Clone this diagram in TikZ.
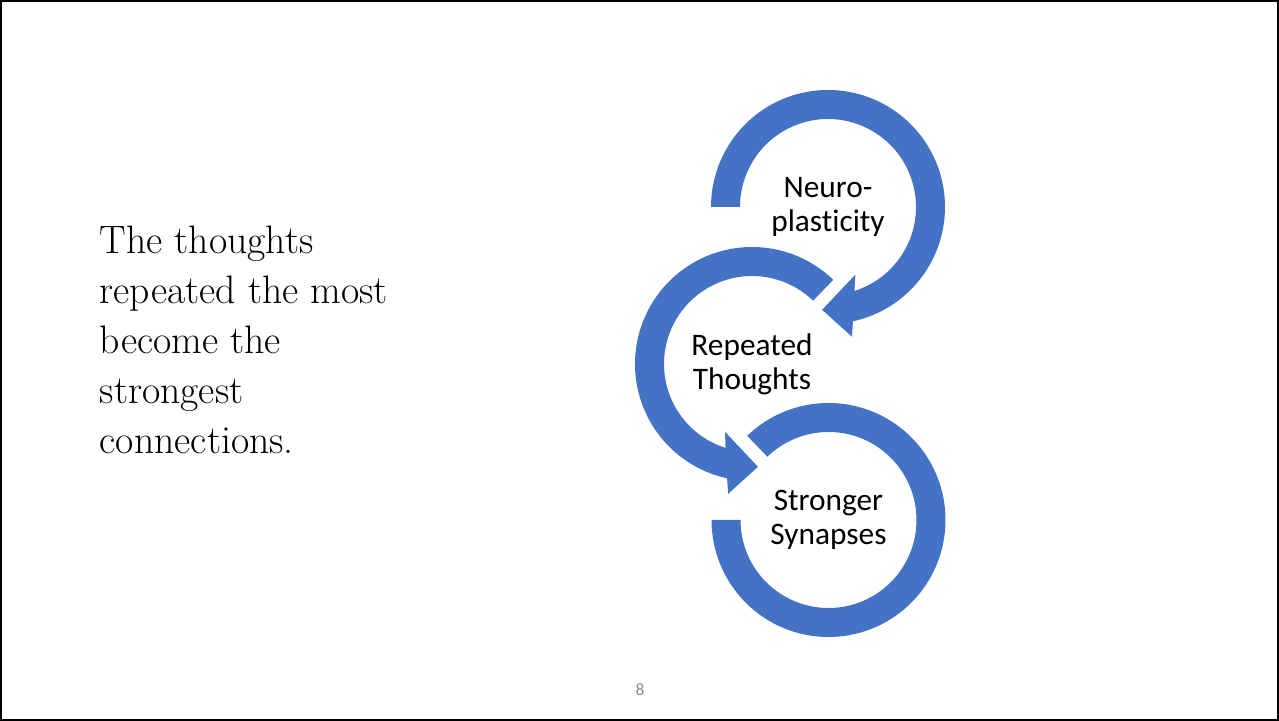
\documentclass[tikz,border=0pt]{standalone}
\usepackage{fontspec}
\newfontfamily\slidesans[Ligatures=NoCommon]{Carlito}
\usetikzlibrary{positioning}
\definecolor{ringblue}{HTML}{4472C4}
\definecolor{pagegray}{HTML}{898989}

\begin{document}
\begin{tikzpicture}[x=0.75pt,y=0.75pt,
  ring/.style={fill=ringblue},
  label/.style={align=center,inner sep=0pt,font=\slidesans\fontsize{23.5}{25.5}\selectfont}]
  \useasboundingbox (0,0) rectangle (1279,721);
  \draw[line width=1.5pt] (1,1) rectangle (1278,720);
  % left text
  \node[anchor=north west,align=left,inner sep=0pt,font=\fontsize{29.8}{37.5}\selectfont] (claim) at (99.5,495.3)
    {The thoughts\\repeated the most\\become the\\strongest\\connections.};
  % top arrow
  \begin{scope}[shift={(828,514)}]
    \fill[ring] (180:117) arc[start angle=180,end angle=-77.7,radius=117]
      -- (-79.5:132) -- (-93.3:103) -- (-68:73) -- (-72.5:88)
      arc[start angle=-72.5,end angle=180,radius=88] -- cycle;
  \end{scope}
  % middle arrow
  \begin{scope}[shift={(752,357)}]
    \fill[ring] (46:117) arc[start angle=46,end angle=257.7,radius=117]
      -- (259.6:132) -- (273.3:103) -- (248.3:73) -- (252.5:88)
      arc[start angle=252.5,end angle=46,radius=88] -- cycle;
  \end{scope}
  % bottom arrow
  \begin{scope}[shift={(828.5,201)}]
    \fill[ring] (134:117) arc[start angle=134,end angle=-180,radius=117]
      -- (-180:88) arc[start angle=-180,end angle=134,radius=88] -- cycle;
  \end{scope}
  \node[label] (neuro) at (828,514) {Neuro-\\plasticity};
  \node[label] (repeat) at (752,357) {Repeated\\Thoughts};
  \node[label] (synapse) at (828.5,201) {Stronger\\Synapses};
  \node[font=\slidesans\fontsize{13}{15}\selectfont,text=pagegray] (pagenum) at (640,31) {8};
\end{tikzpicture}
\end{document}
